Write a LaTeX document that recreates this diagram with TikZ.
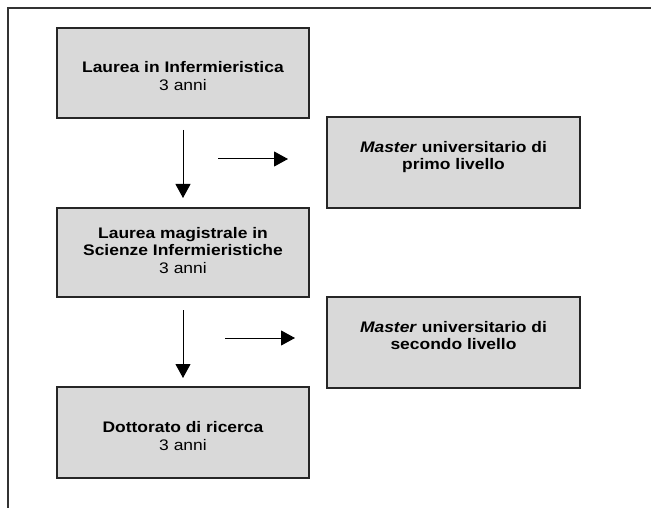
\documentclass[tikz,border=0pt]{standalone}
\usepackage{fontspec}
\setmainfont{Liberation Sans}
\usepackage{graphicx}
\usetikzlibrary{arrows.meta}
\newcommand{\boxtxt}[2][0pt]{\raisebox{#1}[\height][\depth]{\scalebox{1.14}[1]{\fontsize{15.3}{17.2}\selectfont\begin{tabular}{@{}c@{}}#2\end{tabular}}}}
\begin{document}
\begin{tikzpicture}[x=1pt,y=-1pt,
  stepbox/.style={draw=black!85, line width=1.3pt, fill=black!15, minimum width=252pt, inner sep=0pt},
  arr/.style={line width=1pt, -{Triangle[length=14pt,width=15pt]}}]
\useasboundingbox (0,0) rectangle (651,508);
\draw[black!80, line width=1.3pt] (8,508) -- (8,8) -- (651,8);
\node[stepbox, minimum height=90pt] (b1) at (183,73) {\boxtxt[-5pt]{\textbf{Laurea in Infermieristica}\\3 anni}};
\node[stepbox, minimum height=89pt] (b2) at (183,252.5) {\boxtxt{\textbf{Laurea magistrale in}\\\textbf{Scienze Infermieristiche}\\3 anni}};
\node[stepbox, minimum height=91pt] (b3) at (183,432.5) {\boxtxt[-5.5pt]{\textbf{Dottorato di ricerca}\\3 anni}};
\node[stepbox, minimum width=253pt, minimum height=91pt] (ma) at (453.5,162.5) {\boxtxt[5pt]{\textbf{\textit{Master} universitario di}\\\textbf{primo livello}\\ }};
\node[stepbox, minimum width=253pt, minimum height=91pt] (mb) at (453.5,342.5) {\boxtxt[5pt]{\textbf{\textit{Master} universitario di}\\\textbf{secondo livello}\\ }};
\coordinate (v1s) at (183,130);
\coordinate (v1e) at (183,198);
\coordinate (v2s) at (183,310);
\coordinate (v2e) at (183,378);
\coordinate (h1s) at (218,159);
\coordinate (h1e) at (288,159);
\coordinate (h2s) at (225,338);
\coordinate (h2e) at (295,338);
\draw[arr] (v1s) -- (v1e);
\draw[arr] (v2s) -- (v2e);
\draw[arr] (h1s) -- (h1e);
\draw[arr] (h2s) -- (h2e);
\end{tikzpicture}
\end{document}
